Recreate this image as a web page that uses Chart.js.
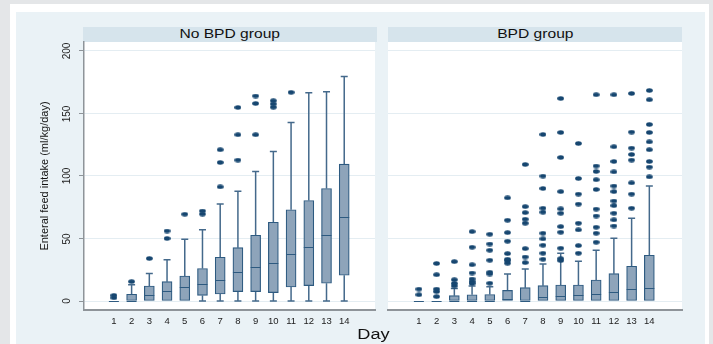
<!DOCTYPE html>
<html>
<head>
<meta charset="utf-8">
<script src="https://cdn.jsdelivr.net/npm/chart.js@4.4.0/dist/chart.umd.min.js"></script>
<style>
  body { margin: 0; background: #e4e6e8; }
  #wrap { position: relative; width: 713px; height: 344px; overflow: hidden; }
  #frame { position: absolute; left: 10px; top: 4px; width: 699px; height: 345px; background: #fff; }
  #inner { position: absolute; left: 16px; top: 12px; width: 689px; height: 340px; background: #eaf2f6; }
  .strip { position: absolute; top: 27px; height: 15px; background: #d6e4ec; color: #111;
           font: 12px "Liberation Sans", Arial, sans-serif; line-height: 15px; text-align: center; }
  .strip span, #day span { display: inline-block; transform: scaleX(1.3); }
  #day { position: absolute; left: 0; width: 746px; top: 326px; text-align: center; color: #111;
         font: 14px "Liberation Sans", Arial, sans-serif; }
  .ylab { position: absolute; width: 30px; height: 12px; margin-left: -15px; margin-top: -6px;
          text-align: center; line-height: 12px; color: #222;
          font: 10px "Liberation Sans", Arial, sans-serif; transform: rotate(-90deg); }
  canvas { position: absolute; top: 0; }
</style>
</head>
<body>
<div id="wrap">
  <div id="frame"></div>
  <div id="inner"></div>
  <div class="strip" style="left:83px;width:294px"><span>No BPD group</span></div>
  <div class="strip" style="left:388px;width:294px"><span>BPD group</span></div>
  <canvas id="left" width="380" height="344" style="left:0;width:380px;height:344px"></canvas>
  <canvas id="right" width="333" height="344" style="left:380px;width:333px;height:344px"></canvas>
  <div id="day"><span>Day</span></div>
</div>
<script>
// =================== DATA ===================
const days = [1, 2, 3, 4, 5, 6, 7, 8, 9, 10, 11, 12, 13, 14];
const yTicks = [0, 50, 100, 150, 200];

// No BPD group
const noQ1  = [0, 0, 0, 0, 0, 4.5, 5.6, 7.5, 7.5, 6.7, 11.2, 12.3, 14.2, 20.6];
const noMed = [0, 0, 4.8, 8, 11, 13.6, 16.6, 23.5, 27, 30.2, 37.6, 43, 52.6, 67.5];
const noQ3  = [0, 5.4, 12, 15.5, 20, 26, 35, 42.7, 52.6, 63, 73, 80.4, 90, 109.5];
const noLo  = [0, 0, 0, 0, 0, 0, 0, 0, 0, 0, 0, 0, 0, 0];
const noHi  = [0, 13, 22, 33, 49.4, 57, 77.7, 87.8, 103.6, 119.6, 142.8, 166.6, 167.4, 179.7];
const noOut = [
  [2.5, 4.5], [15.5], [34], [50, 56], [69.4], [69.5, 72], [91.3, 110.8, 121],
  [112.7, 133, 154.8], [133, 158, 164], [155, 157.6, 160.2], [166.9], [], [], []
];

// BPD group
const bpdQ1  = [0, 0, 0, 0, 0, 0, 0, 0, 0, 0, 0, 0, 0, 0];
const bpdMed = [0, 0, 0, 0, 0, 1.4, 0, 3, 4, 5, 5.4, 7, 9.4, 10.2];
const bpdQ3  = [0, 0, 4.3, 5, 5.2, 8.5, 10.7, 12.3, 12.8, 12.8, 16.8, 21.9, 27.8, 36.6];
const bpdLo  = [0, 0, 0, 0, 0, 0, 0, 0, 0, 0, 0, 0, 0, 0];
const bpdHi  = [0, 0, 10, 12, 11.5, 21.6, 25.6, 29.6, 38.2, 31.8, 40.6, 50.2, 66.2, 92];
const bpdOut = [
  [5, 9.5],
  [3.5, 7.5, 9.5, 21, 30],
  [12, 14, 17, 31.5],
  [14, 15.5, 17.6, 22.4, 29, 43, 55.5],
  [14.2, 21.6, 23, 32.6, 40.6, 45.6, 53.4],
  [30.2, 32.3, 33.4, 37.9, 47.8, 54.7, 64.6, 82.5],
  [30.7, 35.2, 41.9, 62.2, 65.4, 70.7, 75.5, 109.2],
  [33.4, 38.2, 44.6, 49.7, 54.2, 71, 74.2, 90, 99.9, 133.2],
  [32.3, 33.9, 42.2, 55, 59.5, 70.2, 73.7, 87.5, 114.8, 134.8, 162],
  [38.2, 44.3, 56.9, 62.2, 77.5, 85.5, 98, 126],
  [47, 54.2, 59, 68, 73.5, 89.2, 97, 103.6, 108, 165],
  [60, 64.9, 70.2, 76.3, 80, 87.5, 92, 103.3, 111.6, 123.4, 165],
  [74.2, 85.5, 94.5, 112.7, 117.2, 122.3, 135.1, 166],
  [99.3, 107.1, 111.6, 121, 127.3, 134.8, 141.2, 161, 168.4]
];

// =================== STYLE ===================
const FONT = '"Liberation Sans", Arial, sans-serif';
const boxFill = '#8ea4ba';
const boxLine = '#2d5a80';
const whiskColor = '#44698b';
const dotColor = '#164670';
const axisColor = '#8e9499';
const gridColor = '#e4edf2';

// ellipse marker like Stata's
const dot = document.createElement('canvas');
dot.width = 7; dot.height = 5;
(() => {
  const c = dot.getContext('2d');
  c.fillStyle = dotColor;
  c.beginPath();
  c.ellipse(3.5, 2.5, 3.3, 2.2, 0, 0, Math.PI * 2);
  c.fill();
})();

// plot area white + whiskers/medians, all via scales
const boxPlugin = {
  id: 'boxes',
  beforeDraw(chart) {
    const a = chart.chartArea;
    const ctx = chart.ctx;
    ctx.save();
    ctx.fillStyle = '#fff';
    ctx.fillRect(a.left, a.top, a.right - a.left, a.bottom - a.top);
    ctx.restore();
  },
  beforeDatasetsDraw(chart, args, o) {
    const ctx = chart.ctx, x = chart.scales.x, y = chart.scales.y;
    ctx.save();
    ctx.strokeStyle = whiskColor;
    ctx.lineWidth = 1.5;
    days.forEach((d, i) => {
      const px = x.getPixelForValue(d);
      const seg = (from, to) => {
        if (from === to) return;
        ctx.beginPath();
        ctx.moveTo(px, y.getPixelForValue(from));
        ctx.lineTo(px, y.getPixelForValue(to));
        ctx.moveTo(px - 3.5, y.getPixelForValue(to));
        ctx.lineTo(px + 3.5, y.getPixelForValue(to));
        ctx.stroke();
      };
      seg(o.q3[i], o.hi[i]);
      seg(o.q1[i], o.lo[i]);
    });
    ctx.restore();
  },
  afterDatasetsDraw(chart, args, o) {
    const ctx = chart.ctx, x = chart.scales.x, y = chart.scales.y;
    ctx.save();
    ctx.strokeStyle = boxLine;
    ctx.lineWidth = 1;
    days.forEach((d, i) => {
      const px = x.getPixelForValue(d);
      const py = Math.round(y.getPixelForValue(o.med[i])) + 0.5;
      ctx.beginPath();
      ctx.moveTo(px - 5, py);
      ctx.lineTo(px + 5, py);
      ctx.stroke();
    });
    ctx.restore();
  }
};

function makeChart(id, q1, med, q3, lo, hi, out, isLeft) {
  const pts = [];
  out.forEach((vals, i) => vals.forEach(v => pts.push({ x: days[i], y: v })));

  return new Chart(document.getElementById(id), {
    type: 'bar',
    data: {
      datasets: [{
        type: 'bar',
        data: days.map((d, i) => ({ x: d, y: [q1[i], q3[i]] })),
        backgroundColor: boxFill,
        borderColor: boxLine,
        borderWidth: 1.2,
        borderSkipped: false,
        barThickness: 10,
        order: 2
      }, {
        type: 'scatter',
        data: pts,
        pointStyle: dot,
        order: 1
      }]
    },
    options: {
      responsive: false,
      animation: false,
      events: [],
      layout: { padding: isLeft ? { left: 0, right: 3, top: 42, bottom: 0 } : { left: 0, right: 31, top: 42, bottom: 0 } },
      plugins: {
        legend: { display: false },
        tooltip: { enabled: false },
        boxes: { q1, med, q3, lo, hi }
      },
      scales: {
        x: {
          type: 'linear',
          min: isLeft ? -0.1 : -0.15,
          max: isLeft ? 15.15 : 15.25,
          afterBuildTicks: s => { s.ticks = days.map(v => ({ value: v })); },
          afterFit: s => { s.height = 34; },
          grid: { display: false, drawTicks: false },
          border: { display: true, color: axisColor, width: 2 },
          ticks: { padding: 6, color: '#222', font: { family: FONT, size: 9.5 } }
        },
        y: {
          type: 'linear',
          min: -7.2,
          max: 207.2,
          afterBuildTicks: s => { s.ticks = yTicks.map(v => ({ value: v })); },
          afterFit: s => { s.width = isLeft ? 84 : 8; },
          grid: { color: gridColor, lineWidth: 1, drawTicks: isLeft, tickLength: 5, tickColor: axisColor },
          border: { display: isLeft, color: axisColor, width: 1.5 },
          ticks: { display: false },
          title: {
            display: isLeft,
            text: 'Enteral feed intake (ml/kg/day)',
            color: '#111',
            font: { family: FONT, size: 11 },
            padding: { top: 38, bottom: 0 }
          }
        }
      }
    },
    plugins: [boxPlugin]
  });
}

const leftChart = makeChart('left', noQ1, noMed, noQ3, noLo, noHi, noOut, true);
makeChart('right', bpdQ1, bpdMed, bpdQ3, bpdLo, bpdHi, bpdOut, false);

// rotated y tick labels (Stata style), placed with the chart's y scale
const ys = leftChart.scales.y;
yTicks.forEach(v => {
  const el = document.createElement('div');
  el.className = 'ylab';
  el.textContent = v;
  el.style.left = (ys.right - 17) + 'px';
  el.style.top = ys.getPixelForValue(v) + 'px';
  document.getElementById('wrap').appendChild(el);
});
</script>
</body>
</html>
